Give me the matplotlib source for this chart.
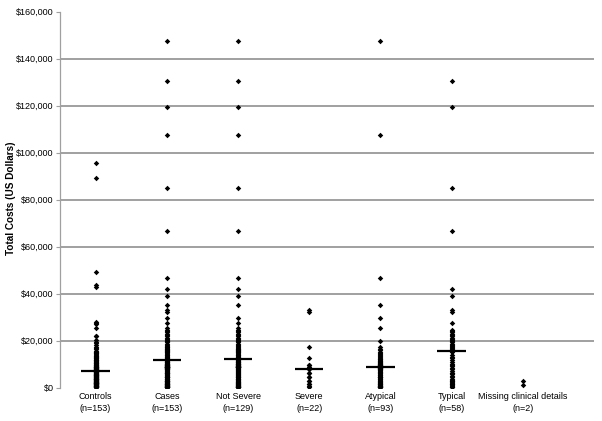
import matplotlib
matplotlib.use("Agg")
import matplotlib.pyplot as plt

# ---- data (values in thousands of US dollars) ----
categories = ["Controls\n(n=153)", "Cases\n(n=153)", "Not Severe\n(n=129)", "Severe\n(n=22)",
              "Atypical\n(n=93)", "Typical\n(n=58)", "Missing clinical details\n(n=2)"]

controls_k = [95.5, 89.4, 49.1, 43.7, 43.0, 28.1, 27.6, 27.2, 25.3, 22.1,
              21.8, 20.1, 19.6, 19.2, 18.3, 17.5, 16.8, 16.4, 15.8, 15.3,
              15.0, 14.6, 14.3, 13.9, 13.6, 13.2, 13.0, 12.7, 12.5, 12.2,
              12.0, 11.7, 11.4, 11.2, 11.0, 10.8, 10.5, 10.3, 10.1, 9.9,
              9.8, 9.6, 9.5, 9.3, 9.2, 9.0, 8.9, 8.8, 8.6, 8.5,
              8.4, 8.3, 8.2, 8.1, 8.0, 7.9, 7.8, 7.7, 7.6, 7.5,
              7.5, 7.4, 7.4, 7.3, 7.3, 7.3, 7.2, 7.2, 7.2, 7.2,
              9.4, 10.6, 11.9, 13.4, 14.8, 8.7,
              7.1, 6.9, 6.8, 6.6, 6.5, 6.3, 6.2, 6.0, 5.9, 5.7,
              5.6, 5.5, 5.3, 5.2, 5.0, 4.9, 4.8, 4.6, 4.5, 4.4,
              4.2, 4.1, 4.0, 3.9, 3.7, 3.6, 3.5, 3.4, 3.3, 3.1,
              3.0, 2.9, 2.8, 2.7, 2.6, 2.5, 2.4, 2.3, 2.2, 2.1,
              2.0, 1.9, 1.8, 1.7, 1.6, 1.5, 1.4, 1.3, 1.2, 1.1,
              1.0, 0.9, 0.8, 0.7, 0.6, 0.5, 0.4, 0.3, 0.3, 0.2,
              6.7, 5.8, 5.1, 4.3, 3.8, 3.2, 2.6, 1.9, 1.4, 0.9,
              0.6, 2.2, 3.6, 4.7, 5.4, 6.1, 7.0]

atypical_not_severe_k = [147.6, 107.5, 46.7, 35.3, 29.8, 25.5, 20.0, 17.2, 16.5, 15.9,
                         15.2, 14.7, 14.2, 13.8, 13.4, 13.0, 12.7, 12.4, 12.1, 11.8,
                         11.5, 11.3, 11.0, 10.8, 10.6, 10.4, 10.2, 10.0, 9.9, 9.7,
                         9.6, 9.5, 9.4, 9.3, 9.2, 9.1, 9.0, 8.95, 8.9, 8.85,
                         8.8, 8.78, 8.75, 8.72,
                         8.6, 8.4, 8.0, 7.7, 7.4, 7.1, 6.8, 6.5, 6.2, 5.9,
                         5.6, 5.3, 5.0, 4.7, 4.4, 4.1, 3.8, 3.5, 3.2, 2.9,
                         2.6, 2.3, 2.0, 1.8, 1.6, 1.4, 1.2, 1.0, 0.9, 0.7,
                         0.6, 0.5, 0.4, 0.3, 0.2]
atypical_severe_k = [9.7, 8.8, 8.5, 8.3, 8.2, 8.1, 8.1, 6.1, 4.7, 4.7, 3.0, 1.6, 0.8, 0.4]

typical_not_severe_k = [130.6, 119.3, 84.8, 66.8, 41.9, 39.0, 27.4, 24.6, 24.0, 23.5,
                        22.9, 22.4, 21.8, 21.3, 20.9, 20.4, 19.8, 19.3, 18.7, 18.2,
                        17.6, 17.0, 16.6, 16.2, 15.8, 15.6, 15.4, 14.1, 12.9, 11.8,
                        10.9, 10.2, 9.3, 8.5, 7.8, 7.0, 6.4, 5.7, 5.1, 4.5,
                        3.9, 3.4, 2.9, 2.5, 2.0, 1.5, 1.1, 0.8, 0.5, 0.3]
typical_severe_k = [33.0, 32.3, 17.4, 12.5, 9.7, 6.1, 3.0, 1.6]

missing_k = [2.8, 1.0]

medians_k = [7.2, 11.8, 12.2, 8.1, 8.7, 15.5, None]

y_ticks_k = [0, 20, 40, 60, 80, 100, 120, 140, 160]
y_tick_labels = ["$0", "$20,000", "$40,000", "$60,000", "$80,000", "$100,000",
                 "$120,000", "$140,000", "$160,000"]

# ---- derived groups ----
atypical_k = atypical_not_severe_k + atypical_severe_k
typical_k = typical_not_severe_k + typical_severe_k
severe_k = atypical_severe_k + typical_severe_k
not_severe_k = atypical_not_severe_k + typical_not_severe_k
cases_k = atypical_k + typical_k + missing_k
groups = [controls_k, cases_k, not_severe_k, severe_k, atypical_k, typical_k, missing_k]

# ---- figure ----
plt.rcParams['font.family'] = ['Liberation Sans', 'DejaVu Sans']
fig = plt.figure(figsize=(6.02, 4.21), dpi=100)
ax = fig.add_axes([60 / 602, 1 - 387.7 / 421, 534 / 602, 376 / 421])

positions = [0.5 + i for i in range(len(categories))]

for i, g in enumerate(groups):
    xs = [positions[i]] * len(g)
    ys = [v * 1000 for v in g]
    ax.plot(xs, ys, linestyle='none', marker='D', markersize=2.8,
            color='black', markeredgewidth=0, zorder=3)
    if medians_k[i] is not None:
        ax.hlines(medians_k[i] * 1000, positions[i] - 0.2, positions[i] + 0.2,
                  color='black', linewidth=1.6, zorder=4)

# gridlines (not at 0 or top)
for t in y_ticks_k[1:-1]:
    ax.axhline(t * 1000, color='#868686', linewidth=1.1, zorder=1)

ax.set_xlim(0, 7.5)
ax.set_ylim(0, 160000)
ax.set_yticks([t * 1000 for t in y_ticks_k])
ax.set_yticklabels(y_tick_labels, fontsize=6.5)
ax.set_xticks(positions)
ax.set_xticklabels(categories, fontsize=6.5, linespacing=1.4)
ax.tick_params(axis='x', length=0, pad=3)
ax.tick_params(axis='y', length=3, width=0.8, color='#a0a0a0', pad=1.5, direction='out')

for s in ['top', 'right', 'bottom']:
    ax.spines[s].set_visible(False)
ax.spines['left'].set_color('#a0a0a0')
ax.spines['left'].set_linewidth(0.9)

fig.text(11.5 / 602, 1 - 198 / 421, "Total Costs (US Dollars)", rotation=90,
         fontsize=7.2, fontweight='bold', ha='center', va='center')

fig.savefig("out.png", dpi=100)
